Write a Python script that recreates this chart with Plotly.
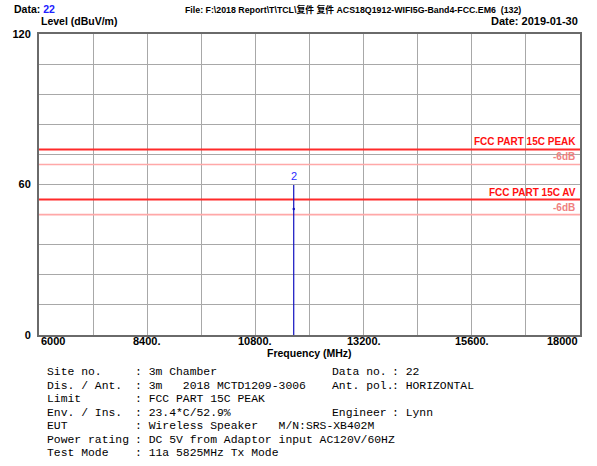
import plotly.graph_objects as go

# ---------------- data ----------------
spike_freq = [11650, 11650]          # MHz
spike_level = [0, 59.8]              # dBuV/m
av_point_freq = [11650]
av_point_level = [50.2]
marker_label = "2"

limit_names = ["FCC PART 15C PEAK", "FCC PART 15C AV"]
limit_levels = [74, 54]
margin_db = 6

x_tick_vals = [6000, 8400, 10800, 13200, 15600, 18000]
x_tick_text = ["6000", "8400.", "10800.", "13200.", "15600.", "18000"]
y_tick_vals = [0, 60, 120]
y_tick_text = ["0", "60", "120"]

info_left = [
    ("Site no.", "3m Chamber"),
    ("Dis. / Ant.", "3m   2018 MCTD1209-3006"),
    ("Limit", "FCC PART 15C PEAK"),
    ("Env. / Ins.", "23.4*C/52.9%"),
    ("EUT", "Wireless Speaker   M/N:SRS-XB402M"),
    ("Power rating", "DC 5V from Adaptor input AC120V/60HZ"),
    ("Test Mode", "11a 5825MHz Tx Mode"),
]
info_right = [
    ("Data no.", "22"),
    ("Ant. pol.", "HORIZONTAL"),
    (None, None),
    ("Engineer", "Lynn"),
]

# ---------------- layout geometry ----------------
W, H = 597, 466
L, R, T, B = 39, 580, 34, 335
PW, PH = R - L, B - T


def px(xp):
    return (xp - L) / PW


def py(yp):
    return (B - yp) / PH


def nb(s):
    return s.replace(" ", "\u00a0")


SANS = "Liberation Sans, Arial, Noto Sans CJK SC, sans-serif"
MONO = "Liberation Mono, DejaVu Sans Mono, monospace"

fig = go.Figure()

# limit lines and -6dB lines
for name, lv in zip(limit_names, limit_levels):
    fig.add_trace(go.Scatter(x=[6000, 18000], y=[lv, lv], mode="lines",
                             line=dict(color="#ff2a2a", width=2), hoverinfo="skip"))
    fig.add_trace(go.Scatter(x=[6000, 18000], y=[lv - margin_db, lv - margin_db], mode="lines",
                             line=dict(color="#ffa8a8", width=1.6), hoverinfo="skip"))

# spectrum spike
fig.add_trace(go.Scatter(x=spike_freq, y=spike_level, mode="lines",
                         line=dict(color="#1010c0", width=1.2), hoverinfo="skip"))
fig.add_trace(go.Scatter(x=av_point_freq, y=av_point_level, mode="markers",
                         marker=dict(color="#1010c0", size=2.5), hoverinfo="skip"))

ann = []
# marker number
ann.append(dict(x=spike_freq[-1], y=spike_level[-1], xref="x", yref="y", text=marker_label,
                showarrow=False, yanchor="bottom", yshift=1,
                font=dict(family=SANS, size=11, color="#2a2aff")))

# limit labels
for name, lv in zip(limit_names, limit_levels):
    ann.append(dict(x=1, y=lv, xref="paper", yref="y", text="<b>%s</b>" % name,
                    showarrow=False, xanchor="right", yanchor="bottom", xshift=-2, yshift=0,
                    font=dict(family=SANS, size=10, color="#ff1010")))
    ann.append(dict(x=1, y=lv - margin_db, xref="paper", yref="y", text="<b>-6dB</b>",
                    showarrow=False, xanchor="right", yanchor="bottom", xshift=-3, yshift=0,
                    font=dict(family=SANS, size=10, color="#f08080")))

# x tick labels
for i, (v, t) in enumerate(zip(x_tick_vals, x_tick_text)):
    xa = "left" if i == 0 else ("right" if i == len(x_tick_vals) - 1 else "center")
    ann.append(dict(x=v, y=py(341), xref="x", yref="paper", text="<b>%s</b>" % t,
                    showarrow=False, xanchor=xa, yanchor="middle",
                    font=dict(family=SANS, size=11, color="#000")))

ann.append(dict(x=px(309), y=py(353), xref="paper", yref="paper", text="<b>Frequency (MHz)</b>",
                showarrow=False, xanchor="center", yanchor="middle",
                font=dict(family=SANS, size=10.5, color="#000")))

# header
ann.append(dict(x=px(12), y=py(9), xref="paper", yref="paper",
                text="<b>Data: <span style='color:#2020ff'>22</span></b>",
                showarrow=False, xanchor="left", yanchor="middle",
                font=dict(family=SANS, size=10.5, color="#000")))
ann.append(dict(x=px(353), y=py(9), xref="paper", yref="paper",
                text="<b>" + nb("File: F:\\2018 Report\\T\\TCL\\复件 复件 ACS18Q1912-WIFI5G-Band4-FCC.EM6  (132)") + "</b>",
                showarrow=False, xanchor="center", yanchor="middle",
                font=dict(family=SANS, size=8.8, color="#000")))
ann.append(dict(x=px(39), y=py(21), xref="paper", yref="paper", text="<b>Level (dBuV/m)</b>",
                showarrow=False, xanchor="left", yanchor="middle",
                font=dict(family=SANS, size=10.5, color="#000")))
ann.append(dict(x=px(580), y=py(21), xref="paper", yref="paper", text="<b>Date: 2019-01-30</b>",
                showarrow=False, xanchor="right", yanchor="middle",
                font=dict(family=SANS, size=11, color="#000")))

# info block
row_y0, row_dy = 372, 13.5
FS = 11.4
for i, (lab, val) in enumerate(info_left):
    y = py(row_y0 + i * row_dy)
    ann.append(dict(x=px(45), y=y, xref="paper", yref="paper", text=nb(lab), showarrow=False,
                    xanchor="left", yanchor="middle", font=dict(family=MONO, size=FS, color="#000")))
    ann.append(dict(x=px(133), y=y, xref="paper", yref="paper", text=nb(": " + val), showarrow=False,
                    xanchor="left", yanchor="middle", font=dict(family=MONO, size=FS, color="#000")))
for i, (lab, val) in enumerate(info_right):
    if lab is None:
        continue
    y = py(row_y0 + i * row_dy)
    ann.append(dict(x=px(330), y=y, xref="paper", yref="paper", text=nb(lab), showarrow=False,
                    xanchor="left", yanchor="middle", font=dict(family=MONO, size=FS, color="#000")))
    ann.append(dict(x=px(390), y=y, xref="paper", yref="paper", text=nb(": " + val), showarrow=False,
                    xanchor="left", yanchor="middle", font=dict(family=MONO, size=FS, color="#000")))

fig.update_layout(
    width=W, height=H,
    margin=dict(l=L, r=W - R, t=T, b=H - B, pad=0),
    paper_bgcolor="white", plot_bgcolor="white",
    showlegend=False,
    annotations=ann,
    xaxis=dict(range=[6000, 18000], tickvals=x_tick_vals, showticklabels=False,
               showgrid=False, zeroline=False, ticks="",
               minor=dict(dtick=1200, tick0=6000, showgrid=True, gridcolor="#a8a8a8", gridwidth=1),
               showline=True, mirror=True, linecolor="#6a6a6a", linewidth=2),
    yaxis=dict(range=[0, 120], tickvals=y_tick_vals,
               ticktext=["<b>%s</b>" % t for t in y_tick_text],
               tickfont=dict(family=SANS, size=11, color="#000"),
               showgrid=False, zeroline=False, ticks="", ticklabelstandoff=4,
               minor=dict(dtick=12, tick0=0, showgrid=True, gridcolor="#a8a8a8", gridwidth=1),
               showline=True, mirror=True, linecolor="#6a6a6a", linewidth=2),
)

fig.write_html("out.html", config={"displayModeBar": False},
               post_script="document.body.style.margin='0';")
